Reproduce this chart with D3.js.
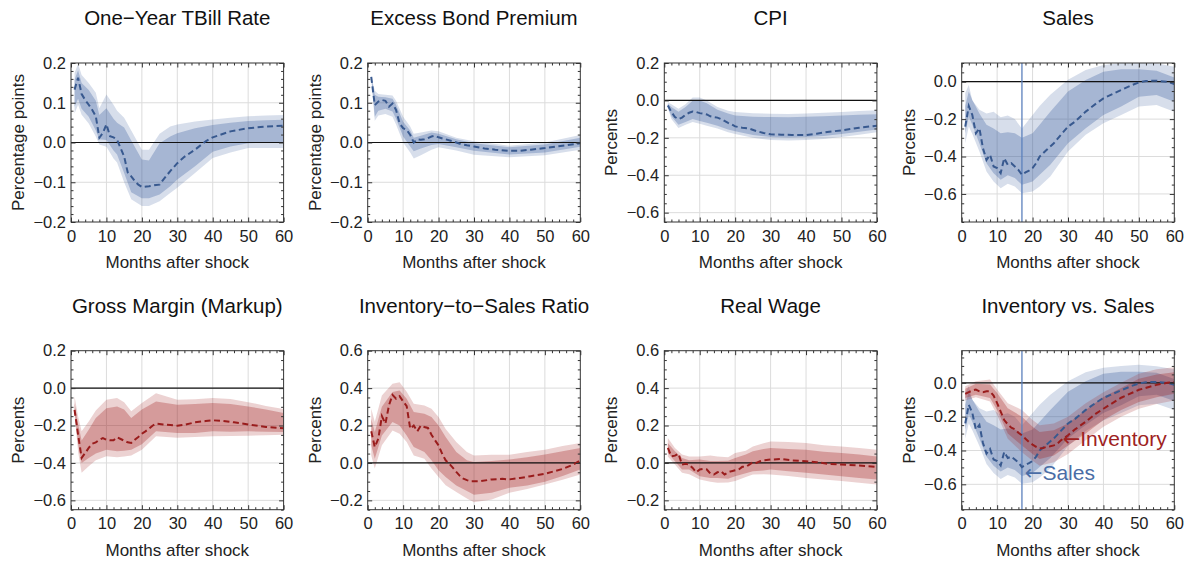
<!DOCTYPE html>
<html><head><meta charset="utf-8">
<script src="https://cdn.jsdelivr.net/npm/d3@7"></script>
<style>
body{margin:0;background:#fff}
svg text{font-family:"Liberation Sans",Arial,Helvetica,sans-serif}
</style>
</head><body>
<svg id="c" width="1192" height="563"></svg>
<script>
// ---------------- DATA ----------------
const xTickLabels = [0, 10, 20, 30, 40, 50, 60];

// One-Year TBill Rate
const tbillMedM = [1,2,3,4,5,6,7,8,9,10,11,12,13,14,15,16,17,18,19,20,22,24,25,26,28,30,32,35,38,40,45,50,55,60];
const tbillMed  = [0.133,0.163,0.122,0.107,0.095,0.082,0.066,0.012,0.024,0.046,0.016,0.013,0.007,-0.014,-0.035,-0.075,-0.085,-0.097,-0.106,-0.112,-0.110,-0.107,-0.106,-0.094,-0.072,-0.052,-0.036,-0.018,0.003,0.013,0.028,0.036,0.040,0.042];
const tbillBandM = [1,2,3,5,7,8,10,12,13,15,17,20,22,25,28,30,35,40,45,50,55,60];
const tbillHi90 = [0.175,0.198,0.170,0.150,0.125,0.086,0.121,0.095,0.080,0.062,0.030,-0.018,-0.018,0.022,0.040,0.045,0.053,0.058,0.062,0.066,0.068,0.069];
const tbillHi68 = [0.158,0.182,0.150,0.132,0.105,0.069,0.086,0.060,0.050,0.038,0.005,-0.043,-0.045,-0.002,0.015,0.023,0.036,0.044,0.050,0.054,0.056,0.057];
const tbillLo68 = [0.090,0.110,0.085,0.065,0.030,0.008,0.006,-0.020,-0.030,-0.077,-0.125,-0.140,-0.140,-0.131,-0.110,-0.093,-0.060,-0.023,-0.010,-0.002,0.000,0.000];
const tbillLo90 = [0.073,0.095,0.070,0.048,0.015,-0.005,-0.011,-0.040,-0.050,-0.100,-0.143,-0.160,-0.160,-0.148,-0.127,-0.114,-0.077,-0.039,-0.025,-0.014,-0.014,-0.014];

// Excess Bond Premium
const ebpMedM = [1,2,3,4,5,6,7,8,9,10,11,12,13,14,15,16,17,18,19,20,22,24,26,28,30,33,36,40,43,46,50,55,60];
const ebpMed  = [0.165,0.094,0.103,0.107,0.105,0.090,0.098,0.082,0.048,0.036,0.032,0.019,0.000,0.008,0.007,0.008,0.011,0.015,0.017,0.013,0.008,0.003,-0.003,-0.007,-0.010,-0.015,-0.018,-0.021,-0.021,-0.018,-0.014,-0.008,-0.002];
const ebpBandM = [1,2,3,5,7,8,10,12,13,15,18,20,25,30,40,50,60];
const ebpHi90 = [0.168,0.130,0.122,0.120,0.118,0.105,0.065,0.040,0.022,0.025,0.030,0.028,0.012,0.003,-0.008,0.000,0.019];
const ebpHi68 = [0.166,0.120,0.115,0.114,0.110,0.095,0.052,0.030,0.012,0.017,0.025,0.022,0.008,-0.002,-0.012,-0.005,0.012];
const ebpLo68 = [0.163,0.065,0.080,0.085,0.078,0.060,0.015,-0.010,-0.022,-0.015,-0.006,-0.004,-0.012,-0.021,-0.030,-0.025,-0.011];
const ebpLo90 = [0.162,0.055,0.068,0.072,0.065,0.045,0.000,-0.025,-0.040,-0.032,-0.018,-0.012,-0.020,-0.031,-0.037,-0.032,-0.018];

// CPI
const cpiMedM = [1,2,3,4,5,6,7,8,9,10,11,12,13,14,15,16,17,18,19,20,22,24,26,28,30,33,36,40,43,46,50,55,60];
const cpiMed  = [-0.027,-0.062,-0.089,-0.100,-0.092,-0.076,-0.066,-0.059,-0.062,-0.068,-0.071,-0.075,-0.085,-0.089,-0.092,-0.100,-0.110,-0.120,-0.128,-0.139,-0.146,-0.151,-0.164,-0.174,-0.181,-0.183,-0.185,-0.185,-0.178,-0.169,-0.160,-0.146,-0.135];
const cpiBandM = [1,2,4,6,8,10,12,15,18,20,25,30,35,40,45,50,55,60];
const cpiHi90 = [-0.010,-0.020,-0.045,-0.020,0.015,0.015,0.000,-0.035,-0.055,-0.062,-0.068,-0.071,-0.072,-0.070,-0.066,-0.062,-0.057,-0.053];
const cpiHi68 = [-0.018,-0.035,-0.060,-0.035,-0.002,0.000,-0.015,-0.050,-0.070,-0.080,-0.087,-0.089,-0.090,-0.088,-0.084,-0.080,-0.077,-0.074];
const cpiLo68 = [-0.035,-0.085,-0.130,-0.115,-0.100,-0.110,-0.120,-0.135,-0.155,-0.165,-0.185,-0.196,-0.198,-0.196,-0.190,-0.180,-0.168,-0.155];
const cpiLo90 = [-0.042,-0.100,-0.148,-0.130,-0.115,-0.125,-0.135,-0.150,-0.170,-0.180,-0.200,-0.212,-0.214,-0.212,-0.206,-0.196,-0.183,-0.170];

// Sales
const salesMedM = [1,2,3,4,5,6,7,8,9,10,11,12,13,14,15,16,17,18,19,20,21,22,24,26,28,30,32,35,38,40,43,45,48,50,52,55,58,60];
const salesMed  = [-0.240,-0.130,-0.178,-0.276,-0.249,-0.356,-0.418,-0.391,-0.453,-0.462,-0.489,-0.409,-0.444,-0.436,-0.453,-0.471,-0.498,-0.485,-0.475,-0.462,-0.436,-0.400,-0.364,-0.329,-0.284,-0.240,-0.213,-0.160,-0.116,-0.089,-0.062,-0.044,-0.018,-0.004,0.004,0.005,0.000,-0.012];
const salesBandM = [1,2,3,5,7,9,11,13,15,17,20,22,25,30,35,40,45,50,55,60];
const salesHi90 = [-0.060,-0.018,-0.100,-0.150,-0.170,-0.160,-0.190,-0.180,-0.200,-0.250,-0.178,-0.130,-0.070,0.010,0.062,0.089,0.100,0.107,0.098,0.080];
const salesHi68 = [-0.130,-0.053,-0.098,-0.170,-0.230,-0.250,-0.276,-0.270,-0.276,-0.300,-0.276,-0.230,-0.160,-0.053,0.009,0.053,0.066,0.066,0.059,0.023];
const salesLo68 = [-0.276,-0.187,-0.230,-0.330,-0.436,-0.490,-0.524,-0.500,-0.515,-0.551,-0.533,-0.498,-0.444,-0.329,-0.249,-0.178,-0.133,-0.080,-0.071,-0.107];
const salesLo90 = [-0.329,-0.240,-0.280,-0.373,-0.480,-0.533,-0.569,-0.545,-0.560,-0.596,-0.587,-0.560,-0.507,-0.373,-0.284,-0.222,-0.178,-0.133,-0.124,-0.160];

// Gross Margin (Markup)
const gmMedM = [1,2,3,4,5,6,7,8,9,10,11,12,13,14,15,16,17,18,19,20,21,22,23,24,26,28,30,32,35,38,40,43,46,50,55,60];
const gmMed  = [-0.116,-0.249,-0.373,-0.347,-0.320,-0.297,-0.290,-0.276,-0.267,-0.276,-0.279,-0.279,-0.263,-0.272,-0.281,-0.290,-0.293,-0.276,-0.261,-0.244,-0.231,-0.217,-0.201,-0.190,-0.194,-0.197,-0.201,-0.196,-0.183,-0.176,-0.172,-0.176,-0.183,-0.194,-0.208,-0.215];
const gmBandM = [1,2,3,5,7,10,13,15,17,20,24,30,35,40,45,50,55,60];
const gmHi90 = [-0.044,-0.150,-0.231,-0.178,-0.120,-0.062,-0.053,-0.075,-0.124,-0.080,-0.027,-0.062,-0.060,-0.053,-0.058,-0.075,-0.095,-0.112];
const gmHi68 = [-0.080,-0.190,-0.280,-0.222,-0.160,-0.107,-0.098,-0.115,-0.160,-0.115,-0.071,-0.089,-0.085,-0.080,-0.085,-0.098,-0.115,-0.133];
const gmLo68 = [-0.125,-0.300,-0.400,-0.373,-0.350,-0.329,-0.337,-0.335,-0.329,-0.300,-0.231,-0.240,-0.240,-0.231,-0.233,-0.231,-0.233,-0.235];
const gmLo90 = [-0.140,-0.340,-0.453,-0.418,-0.385,-0.364,-0.370,-0.365,-0.360,-0.330,-0.258,-0.265,-0.262,-0.258,-0.256,-0.254,-0.252,-0.249];

// Inventory-to-Sales Ratio
const isrMedM = [1,2,3,4,5,6,7,8,9,10,11,12,13,14,15,16,17,18,19,20,21,22,23,24,25,26,27,28,29,30,32,35,38,40,43,46,50,55,58,60];
const isrMed  = [0.169,0.085,0.130,0.250,0.210,0.308,0.364,0.343,0.357,0.329,0.304,0.183,0.200,0.169,0.200,0.192,0.187,0.151,0.121,0.094,0.050,0.014,-0.004,-0.025,-0.048,-0.069,-0.084,-0.092,-0.098,-0.098,-0.097,-0.088,-0.085,-0.088,-0.080,-0.071,-0.058,-0.032,-0.009,0.014];
const isrBandM = [1,2,4,7,9,11,13,16,18,20,22,25,28,30,35,40,45,50,55,60];
const isrHi90 = [0.290,0.220,0.360,0.423,0.432,0.380,0.316,0.307,0.290,0.245,0.182,0.112,0.058,0.040,0.044,0.044,0.058,0.071,0.090,0.106];
const isrHi68 = [0.236,0.165,0.300,0.379,0.387,0.343,0.272,0.263,0.245,0.200,0.138,0.058,0.014,0.005,0.010,0.018,0.030,0.045,0.062,0.080];
const isrLo68 = [0.094,0.023,0.147,0.219,0.200,0.147,0.085,0.058,0.014,-0.039,-0.075,-0.120,-0.150,-0.170,-0.160,-0.133,-0.120,-0.100,-0.070,-0.035];
const isrLo90 = [0.040,-0.030,0.094,0.174,0.156,0.112,0.040,0.023,-0.030,-0.075,-0.119,-0.155,-0.190,-0.210,-0.195,-0.159,-0.140,-0.115,-0.090,-0.062];

// Real Wage
const rwMedM = [1,2,3,4,5,6,7,8,9,10,11,12,13,14,15,16,17,18,19,20,21,22,23,24,25,26,27,28,30,33,36,40,43,46,50,55,60];
const rwMed  = [0.080,0.035,0.039,0.050,-0.009,-0.005,-0.009,-0.027,-0.050,-0.035,-0.032,-0.035,-0.057,-0.062,-0.050,-0.044,-0.062,-0.050,-0.044,-0.039,-0.035,-0.021,-0.021,-0.009,0.004,0.000,0.009,0.014,0.018,0.021,0.014,0.009,0.004,-0.004,-0.009,-0.014,-0.021];
const rwBandM = [1,3,5,7,10,13,15,18,20,23,25,28,30,35,40,45,50,55,60];
const rwHi90 = [0.133,0.080,0.045,0.035,0.035,0.040,0.035,0.030,0.053,0.065,0.088,0.105,0.115,0.112,0.106,0.095,0.088,0.080,0.071];
const rwHi68 = [0.106,0.062,0.027,0.015,0.018,0.010,0.010,0.012,0.027,0.045,0.062,0.075,0.080,0.075,0.071,0.060,0.053,0.045,0.035];
const rwLo68 = [0.053,0.009,-0.035,-0.035,-0.071,-0.080,-0.080,-0.085,-0.071,-0.055,-0.044,-0.040,-0.035,-0.045,-0.053,-0.062,-0.071,-0.080,-0.088];
const rwLo90 = [0.035,-0.009,-0.053,-0.060,-0.088,-0.100,-0.106,-0.105,-0.097,-0.075,-0.062,-0.060,-0.062,-0.070,-0.080,-0.088,-0.097,-0.106,-0.115];

// Inventory (for "Inventory vs. Sales")
const invMedM = [1,2,3,4,5,6,7,8,9,10,11,12,13,14,15,16,17,18,19,20,21,22,23,24,25,26,27,28,30,32,35,38,40,45,50,55,58,60];
const invMed  = [-0.065,-0.055,-0.045,-0.040,-0.050,-0.055,-0.050,-0.050,-0.075,-0.120,-0.170,-0.220,-0.245,-0.265,-0.275,-0.295,-0.310,-0.330,-0.350,-0.365,-0.378,-0.388,-0.385,-0.378,-0.375,-0.370,-0.360,-0.340,-0.310,-0.275,-0.230,-0.180,-0.153,-0.088,-0.041,-0.012,0.000,0.004];
const invBandM = [1,4,8,10,13,17,20,22,26,30,35,40,45,50,55,60];
const invHi90 = [-0.020,0.010,0.020,-0.040,-0.120,-0.160,-0.220,-0.250,-0.240,-0.200,-0.120,-0.055,0.000,0.053,0.080,0.092];
const invHi68 = [-0.035,-0.005,-0.010,-0.060,-0.150,-0.200,-0.260,-0.290,-0.280,-0.240,-0.160,-0.084,-0.030,0.024,0.050,0.063];
const invLo68 = [-0.090,-0.070,-0.090,-0.160,-0.300,-0.370,-0.420,-0.450,-0.430,-0.370,-0.300,-0.220,-0.160,-0.114,-0.085,-0.065];
const invLo90 = [-0.105,-0.085,-0.110,-0.190,-0.330,-0.410,-0.460,-0.490,-0.470,-0.420,-0.340,-0.260,-0.200,-0.153,-0.125,-0.104];

const shockPeakMonth = 17;

// ---------------- STYLE / LAYOUT ----------------
const FONT = '"Liberation Sans",Arial,Helvetica,sans-serif';
const BLUE = {line: "#38598f", band: "#36599a"};
const RED  = {line: "#991c1c", band: "#a01e1e"};
const colLeft = [71, 367.7, 664.3, 961.7];
const rowTop = [63, 350.7];
const plotW = 212.6, plotH = 159;

function ser(mm, med, bm, lo90, hi90, lo68, hi68, col) {
  return {mm, med, bm, lo90, hi90, lo68, hi68, col};
}

const panels = [
  {title: "One\u2212Year TBill Rate", ylab: "Percentage points", domain: [-0.2, 0.2], yTicks: [-0.2,-0.1,0,0.1,0.2], minor: 0.02,
   series: [ser(tbillMedM, tbillMed, tbillBandM, tbillLo90, tbillHi90, tbillLo68, tbillHi68, BLUE)]},
  {title: "Excess Bond Premium", ylab: "Percentage points", domain: [-0.2, 0.2], yTicks: [-0.2,-0.1,0,0.1,0.2], minor: 0.02,
   series: [ser(ebpMedM, ebpMed, ebpBandM, ebpLo90, ebpHi90, ebpLo68, ebpHi68, BLUE)]},
  {title: "CPI", ylab: "Percents", domain: [-0.65, 0.2], yTicks: [-0.6,-0.4,-0.2,0,0.2], minor: 0.05,
   series: [ser(cpiMedM, cpiMed, cpiBandM, cpiLo90, cpiHi90, cpiLo68, cpiHi68, BLUE)]},
  {title: "Sales", ylab: "Percents", domain: [-0.75, 0.1], yTicks: [-0.6,-0.4,-0.2,0], minor: 0.05, vline: true,
   series: [ser(salesMedM, salesMed, salesBandM, salesLo90, salesHi90, salesLo68, salesHi68, BLUE)]},
  {title: "Gross Margin (Markup)", ylab: "Percents", domain: [-0.65, 0.2], yTicks: [-0.6,-0.4,-0.2,0,0.2], minor: 0.05,
   series: [ser(gmMedM, gmMed, gmBandM, gmLo90, gmHi90, gmLo68, gmHi68, RED)]},
  {title: "Inventory\u2212to\u2212Sales Ratio", ylab: "Percents", domain: [-0.25, 0.6], yTicks: [-0.2,0,0.2,0.4,0.6], minor: 0.05,
   series: [ser(isrMedM, isrMed, isrBandM, isrLo90, isrHi90, isrLo68, isrHi68, RED)]},
  {title: "Real Wage", ylab: "Percents", domain: [-0.25, 0.6], yTicks: [-0.2,0,0.2,0.4,0.6], minor: 0.05,
   series: [ser(rwMedM, rwMed, rwBandM, rwLo90, rwHi90, rwLo68, rwHi68, RED)]},
  {title: "Inventory vs. Sales", ylab: "Percents", domain: [-0.75, 0.19], yTicks: [-0.6,-0.4,-0.2,0], minor: 0.05, vline: true,
   series: [ser(salesMedM, salesMed, salesBandM, salesLo90, salesHi90, salesLo68, salesHi68, BLUE),
            ser(invMedM, invMed, invBandM, invLo90, invHi90, invLo68, invHi68, RED)],
   notes: [{text: "Inventory", m: 28.5, v: -0.374, col: "#9e2222"},
           {text: "Sales", m: 17.8, v: -0.577, col: "#4a6da6"}]}
];

// ---------------- DRAW ----------------
const svg = d3.select("#c");
const fmt = d3.format(".1f");

panels.forEach((p, i) => {
  const left = colLeft[i % 4], top = rowTop[Math.floor(i / 4)];
  const x = d3.scaleLinear().domain([0, 60]).range([left, left + plotW]);
  const y = d3.scaleLinear().domain(p.domain).range([top + plotH, top]);
  const g = svg.append("g");

  const cid = "clip" + i;
  svg.append("clipPath").attr("id", cid).append("rect")
    .attr("x", left).attr("y", top).attr("width", plotW).attr("height", plotH);

  // grid
  g.append("g").selectAll("line").data(xTickLabels.filter(t => t > 0 && t < 60)).join("line")
    .attr("x1", d => x(d)).attr("x2", d => x(d)).attr("y1", top).attr("y2", top + plotH)
    .attr("stroke", "#dcdcdc").attr("stroke-width", 1);
  g.append("g").selectAll("line").data(p.yTicks.filter(t => t > p.domain[0] + 1e-9 && t < p.domain[1] - 1e-9)).join("line")
    .attr("x1", left).attr("x2", left + plotW).attr("y1", d => y(d)).attr("y2", d => y(d))
    .attr("stroke", "#dcdcdc").attr("stroke-width", 1);

  const pg = g.append("g").attr("clip-path", `url(#${cid})`);

  // bands
  p.series.forEach(s => {
    const b90 = s.bm.map((m, k) => ({m, lo: s.lo90[k], hi: s.hi90[k]}));
    const b68 = s.bm.map((m, k) => ({m, lo: s.lo68[k], hi: s.hi68[k]}));
    const area = d3.area().x(d => x(d.m)).y0(d => y(d.lo)).y1(d => y(d.hi));
    pg.append("path").attr("d", area(b90)).attr("fill", s.col.band).attr("fill-opacity", 0.2);
    pg.append("path").attr("d", area(b68)).attr("fill", s.col.band).attr("fill-opacity", 0.3);
  });

  // zero line
  pg.append("line").attr("x1", left).attr("x2", left + plotW).attr("y1", y(0)).attr("y2", y(0))
    .attr("stroke", "#111").attr("stroke-width", 1.2);

  if (p.vline) {
    pg.append("line").attr("x1", x(shockPeakMonth)).attr("x2", x(shockPeakMonth))
      .attr("y1", top).attr("y2", top + plotH).attr("stroke", "#5c80bc").attr("stroke-width", 1.3);
  }

  // median lines
  p.series.forEach(s => {
    const line = d3.line().x(d => x(d[0])).y(d => y(d[1]));
    pg.append("path").attr("d", line(d3.zip(s.mm, s.med))).attr("fill", "none")
      .attr("stroke", s.col.line).attr("stroke-width", 2).attr("stroke-dasharray", "6,3.5");
  });

  // frame
  g.append("rect").attr("x", left).attr("y", top).attr("width", plotW).attr("height", plotH)
    .attr("fill", "none").attr("stroke", "#333").attr("stroke-width", 1);

  const tickCol = "#333";
  const style = sel => {
    sel.attr("color", tickCol).attr("font-family", FONT).attr("font-size", 16.5);
    sel.select(".domain").remove();
    sel.selectAll("text").attr("fill", "#222");
  };

  const xMinor = d3.range(0, 60.001, 2).filter(v => v % 10 !== 0);
  const yMinor = d3.range(Math.ceil(p.domain[0] / p.minor - 1e-6) * p.minor, p.domain[1] + 1e-9, p.minor)
    .map(v => Math.round(v * 1000) / 1000)
    .filter(v => !p.yTicks.some(t => Math.abs(t - v) < 1e-6));

  // bottom axis
  svg.append("g").attr("transform", `translate(0,${top + plotH})`)
    .call(d3.axisBottom(x).tickValues(xTickLabels).tickFormat(d3.format("d")).tickSizeInner(-4.5).tickSizeOuter(0).tickPadding(8))
    .call(style);
  svg.append("g").attr("transform", `translate(0,${top + plotH})`)
    .call(d3.axisBottom(x).tickValues(xMinor).tickFormat("").tickSizeInner(-2.5).tickSizeOuter(0)).call(style);
  // top axis
  svg.append("g").attr("transform", `translate(0,${top})`)
    .call(d3.axisTop(x).tickValues(xTickLabels).tickFormat("").tickSizeInner(-4.5).tickSizeOuter(0)).call(style);
  svg.append("g").attr("transform", `translate(0,${top})`)
    .call(d3.axisTop(x).tickValues(xMinor).tickFormat("").tickSizeInner(-2.5).tickSizeOuter(0)).call(style);
  // left axis
  svg.append("g").attr("transform", `translate(${left},0)`)
    .call(d3.axisLeft(y).tickValues(p.yTicks).tickFormat(d => fmt(d)).tickSizeInner(-4.5).tickSizeOuter(0).tickPadding(5))
    .call(style);
  svg.append("g").attr("transform", `translate(${left},0)`)
    .call(d3.axisLeft(y).tickValues(yMinor).tickFormat("").tickSizeInner(-2.5).tickSizeOuter(0)).call(style);
  // right axis
  svg.append("g").attr("transform", `translate(${left + plotW},0)`)
    .call(d3.axisRight(y).tickValues(p.yTicks).tickFormat("").tickSizeInner(-4.5).tickSizeOuter(0)).call(style);
  svg.append("g").attr("transform", `translate(${left + plotW},0)`)
    .call(d3.axisRight(y).tickValues(yMinor).tickFormat("").tickSizeInner(-2.5).tickSizeOuter(0)).call(style);

  // titles and labels
  svg.append("text").attr("x", left + plotW / 2).attr("y", top - 38).attr("text-anchor", "middle")
    .attr("font-size", 20.5).attr("fill", "#111").text(p.title);
  svg.append("text").attr("x", left + plotW / 2).attr("y", top + plotH + 46).attr("text-anchor", "middle")
    .attr("font-size", 17).attr("fill", "#222").text("Months after shock");
  svg.append("text").attr("transform", `translate(${left - 47},${top + plotH / 2}) rotate(-90)`)
    .attr("text-anchor", "middle").attr("font-size", 17).attr("fill", "#222").text(p.ylab);

  if (p.notes) {
    p.notes.forEach(n => {
      const t = svg.append("text").attr("x", x(n.m)).attr("y", y(n.v)).attr("font-size", 21).attr("fill", n.col);
      t.append("tspan").attr("font-family", '"DejaVu Sans",sans-serif').text("\u2190");
      t.append("tspan").text(n.text);
    });
  }
});
</script>
</body></html>
